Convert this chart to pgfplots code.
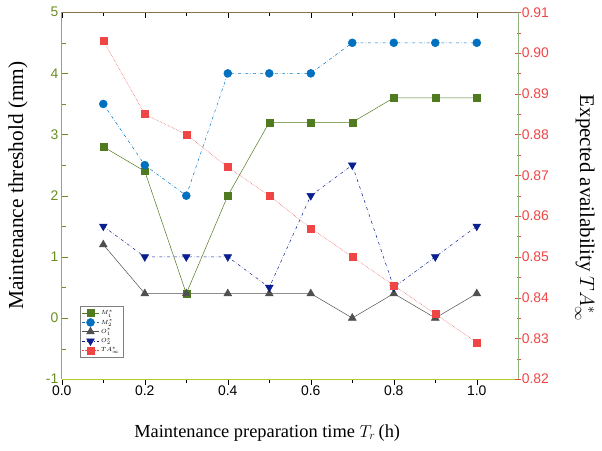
\documentclass[border={5pt 6pt 4pt 4pt}]{standalone}
\usepackage{pgfplots}
\pgfplotsset{compat=1.18}
\usepackage{fontspec}
\setmainfont{Liberation Serif}
\setsansfont{Liberation Sans}
\definecolor{cM1}{HTML}{4F7A1F}
\definecolor{cM2}{HTML}{0070C0}
\definecolor{cO1}{HTML}{505050}
\definecolor{cO2}{HTML}{0A1F8F}
\definecolor{cTA}{HTML}{F04545}
\definecolor{axL}{HTML}{8DB33A}
\definecolor{axLtxt}{HTML}{6B8E23}
\definecolor{axR}{HTML}{8FCF8F}
\definecolor{axT}{HTML}{8B7355}
\begin{document}
\begin{tikzpicture}
\pgfplotsset{
  common/.style={
    width=459pt, height=369pt, scale only axis,
    xmin=0, xmax=1.1,
    xtick={0,0.2,0.4,0.6,0.8,1.0},
    minor xtick={0.1,0.3,0.5,0.7,0.9},
    /pgf/number format/assume math mode=true,
    tick label style={font=\sffamily\fontsize{14}{16}\selectfont},
    x label style={font=\fontsize{18.5}{22}\selectfont},
    y label style={font=\fontsize{21.5}{24}\selectfont},
    tick align=inside,
    major tick length=6pt, minor tick length=4pt,
  }
}
\begin{axis}[common,
  axis x line*=bottom,
  axis y line*=left,
  x axis line style={color=axL!70!yellow, line width=1pt},
  y axis line style={color=axL, line width=1pt},
  ymin=-1, ymax=5, ytick={-1,0,1,2,3,4,5},
  minor ytick={-0.5,0.5,1.5,2.5,3.5,4.5},
  yticklabel style={color=axLtxt},
  ytick style={color=axLtxt},
  xtick style={color=black, yshift=-5pt},
  every major x tick/.append style={yshift=-1pt},
  every minor x tick/.append style={yshift=1pt},
  xticklabel style={/pgf/number format/.cd, fixed, fixed zerofill, precision=1},
  xticklabel shift=3pt,
  xlabel={Maintenance preparation time $T_r$\,(h)},
  x label style={at={(axis description cs:0.45,-0.146)}, anchor=center},
  ylabel={Maintenance threshold (mm)},
  y label style={at={(axis description cs:-0.096,0.528)}, anchor=center},
  legend style={at={(0.04,0.06)}, anchor=south west, font=\fontsize{6}{7}\selectfont,
    draw=gray, row sep=-1pt, inner sep=1.5pt},
  legend cell align=left,
]
\addplot[cM1, solid, line width=0.5pt, mark=square*, mark size=3.5pt, mark options={solid, fill=cM1}]
 coordinates {(0.1,2.8)(0.2,2.4)(0.3,0.4)(0.4,2.0)(0.5,3.2)(0.6,3.2)(0.7,3.2)(0.8,3.6)(0.9,3.6)(1.0,3.6)};
\addlegendentry{$M_1^*$}
\addplot[cM2, dash dot, line width=0.5pt, mark=*, mark size=4pt, mark options={solid, fill=cM2}]
 coordinates {(0.1,3.5)(0.2,2.5)(0.3,2.0)(0.4,4.0)(0.5,4.0)(0.6,4.0)(0.7,4.5)(0.8,4.5)(0.9,4.5)(1.0,4.5)};
\addlegendentry{$M_2^*$}
\addplot[cO1, solid, line width=0.5pt, mark=triangle*, mark size=4.5pt, mark options={solid, fill=cO1}]
 coordinates {(0.1,1.2)(0.2,0.4)(0.3,0.4)(0.4,0.4)(0.5,0.4)(0.6,0.4)(0.7,0.0)(0.8,0.4)(0.9,0.0)(1.0,0.4)};
\addlegendentry{$O_1^*$}
\addplot[cO2, dash dot, line width=0.5pt, mark=triangle*, mark size=4.5pt, mark options={solid, fill=cO2, rotate=180}]
 coordinates {(0.1,1.5)(0.2,1.0)(0.3,1.0)(0.4,1.0)(0.5,0.5)(0.6,2.0)(0.7,2.5)(0.8,0.5)(0.9,1.0)(1.0,1.5)};
\addlegendentry{$O_2^*$}
\addlegendimage{cTA, densely dotted, line width=0.5pt, mark=square*, mark size=3.5pt, mark options={solid, fill=cTA}}
\addlegendentry{$TA_\infty^*$}
\end{axis}
\begin{axis}[common,
  axis x line*=top,
  axis y line*=right,
  x axis line style={color=axT, line width=1pt},
  y axis line style={color=axR!70!axT, line width=1pt},
  xtick style={color=black},
  xticklabels={},
  ymin=0.82, ymax=0.91,
  ytick={0.82,0.83,0.84,0.85,0.86,0.87,0.88,0.89,0.90,0.91},
  minor ytick={0.825,0.835,0.845,0.855,0.865,0.875,0.885,0.895,0.905},
  yticklabel style={color=cTA, /pgf/number format/.cd, fixed, fixed zerofill, precision=2},
  ytick style={color=cTA, xshift=3pt},
  ylabel={Expected availability $TA_\infty^*$},
  y label style={at={(axis description cs:1.146,0.466)}, anchor=center, rotate=180, font=\fontsize{21}{24}\selectfont},
]
\addplot[cTA, densely dotted, line width=0.5pt, mark=square*, mark size=3.5pt, mark options={solid, fill=cTA}]
 coordinates {(0.1,0.903)(0.2,0.885)(0.3,0.880)(0.4,0.872)(0.5,0.865)(0.6,0.857)(0.7,0.850)(0.8,0.843)(0.9,0.836)(1.0,0.829)};
\end{axis}
\end{tikzpicture}
\end{document}
